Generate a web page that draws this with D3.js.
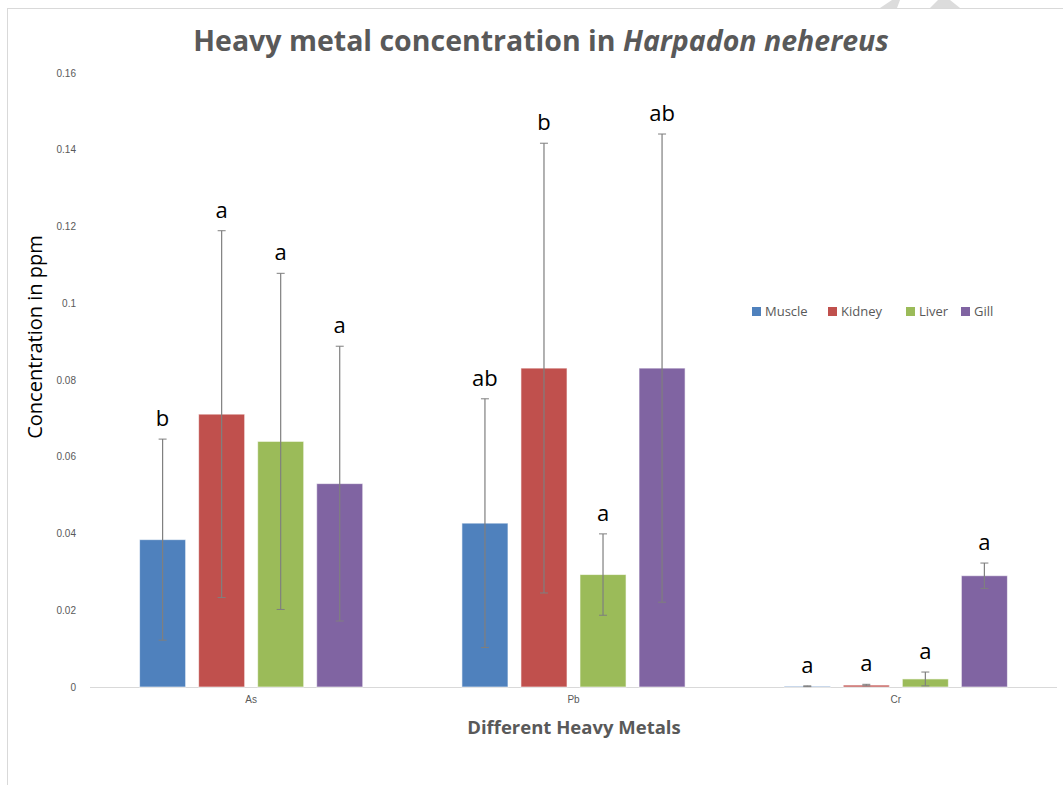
<!DOCTYPE html>
<html>
<head>
<meta charset="utf-8">
<script src="https://cdn.jsdelivr.net/npm/d3@7"></script>
<style>
  body { margin: 0; background: #fff; }
  svg { display: block; font-family: "Open Sans", "Noto Sans", sans-serif; }
</style>
</head>
<body>
<svg class="chart"></svg>
<script>
'use strict'

// data
const metals = ['As', 'Pb', 'Cr']
const tissues = ['Muscle', 'Kidney', 'Liver', 'Gill']
const colors = ['#4F81BD', '#C0504D', '#9BBB59', '#8064A2']
const meanAs = [0.0384, 0.0711, 0.0640, 0.0530]
const meanPb = [0.0427, 0.0831, 0.0293, 0.0831]
const meanCr = [0.0002, 0.0005, 0.0021, 0.0290]
const sdAs = [0.0262, 0.0478, 0.0438, 0.0358]
const sdPb = [0.0324, 0.0586, 0.0106, 0.0610]
const sdCr = [0.0001, 0.0002, 0.0018, 0.0033]
const lettersAs = ['b', 'a', 'a', 'a']
const lettersPb = ['ab', 'b', 'a', 'ab']
const lettersCr = ['a', 'a', 'a', 'a']
const yTicks = [0, 0.02, 0.04, 0.06, 0.08, 0.1, 0.12, 0.14, 0.16]

const means = [meanAs, meanPb, meanCr]
const sds = [sdAs, sdPb, sdCr]
const letters = [lettersAs, lettersPb, lettersCr]

const width = 1063
const height = 785
const margin = { left: 90, right: 6, top: 73, bottom: 98 }

const svg = d3.select('.chart')
  .attr('width', width)
  .attr('height', height)

// outer frame and a bit of watermark peeking in at the top
svg.append('rect')
  .attr('x', 7.5).attr('y', 8.5)
  .attr('width', 1060).attr('height', 800)
  .attr('fill', 'none')
  .attr('stroke', '#d9d9d9')
svg.append('path')
  .attr('d', 'M880,8 L892,0 L900,0 L897,8 Z M930,8 L938,0 L950,0 L960,8 Z')
  .attr('fill', '#dcdcdc')

const rows = []
metals.forEach((m, i) => {
  tissues.forEach((t, j) => {
    rows.push({ metal: m, tissue: t, value: means[i][j], sd: sds[i][j], letter: letters[i][j], color: colors[j] })
  })
})

const x0 = d3.scaleBand()
  .domain(metals)
  .range([margin.left, width - margin.right])

const x1 = d3.scaleBand()
  .domain(tissues)
  .range([0, x0.bandwidth()])
  .paddingInner(0.22)
  .paddingOuter(0.84)

const y = d3.scaleLinear()
  .domain([0, 0.16])
  .range([height - margin.bottom, margin.top])

// y axis labels only, no line
const yAxis = svg.append('g')
  .attr('transform', `translate(${margin.left - 11},0)`)
  .call(d3.axisLeft(y).tickValues(yTicks).tickSize(0).tickFormat(d => d3.format('')(+d.toFixed(2))))
yAxis.select('.domain').remove()
yAxis.selectAll('text')
  .attr('fill', '#595959')
  .attr('font-size', 10)

// x axis baseline
svg.append('line')
  .attr('x1', margin.left).attr('x2', width - margin.right)
  .attr('y1', y(0) + 0.5).attr('y2', y(0) + 0.5)
  .attr('stroke', '#d9d9d9')

const xAxis = svg.append('g')
  .attr('transform', `translate(0,${y(0)})`)
  .call(d3.axisBottom(x0).tickSize(0).tickPadding(9))
xAxis.select('.domain').remove()
xAxis.selectAll('text')
  .attr('fill', '#595959')
  .attr('font-size', 10)

// bars
const bars = svg.append('g').selectAll('g')
  .data(rows)
  .join('g')
  .attr('transform', d => `translate(${x0(d.metal) + x1(d.tissue)},0)`)

bars.append('rect')
  .attr('x', 0)
  .attr('width', x1.bandwidth())
  .attr('y', d => y(d.value))
  .attr('height', d => y(0) - y(d.value))
  .attr('fill', d => d.color)
  .attr('stroke', '#ffffff')
  .attr('stroke-opacity', 0.6)

// error bars
const cx = x1.bandwidth() / 2
bars.append('line')
  .attr('x1', cx).attr('x2', cx)
  .attr('y1', d => y(d.value + d.sd))
  .attr('y2', d => y(Math.max(0, d.value - d.sd)))
  .attr('stroke', '#7f7f7f')
  .attr('stroke-width', 1.2)
bars.append('line')
  .attr('x1', cx - 4).attr('x2', cx + 4)
  .attr('y1', d => y(d.value + d.sd)).attr('y2', d => y(d.value + d.sd))
  .attr('stroke', '#7f7f7f')
bars.append('line')
  .attr('x1', cx - 4).attr('x2', cx + 4)
  .attr('y1', d => y(Math.max(0, d.value - d.sd))).attr('y2', d => y(Math.max(0, d.value - d.sd)))
  .attr('stroke', '#7f7f7f')

// significance letters
bars.append('text')
  .attr('x', cx)
  .attr('y', d => y(d.value + d.sd) - 13)
  .attr('text-anchor', 'middle')
  .attr('font-size', 22)
  .attr('fill', '#000')
  .text(d => d.letter)

// title
const title = svg.append('text')
  .attr('x', 541)
  .attr('y', 51)
  .attr('text-anchor', 'middle')
  .attr('font-size', 28.5)
  .attr('font-weight', 'bold')
  .attr('fill', '#595959')
title.append('tspan').text('Heavy metal concentration in ')
title.append('tspan').attr('font-style', 'italic').text('Harpadon nehereus')

// axis titles
svg.append('text')
  .attr('transform', 'translate(42,337) rotate(-90)')
  .attr('text-anchor', 'middle')
  .attr('font-size', 20)
  .attr('fill', '#000')
  .text('Concentration in ppm')

svg.append('text')
  .attr('x', 574)
  .attr('y', 734)
  .attr('text-anchor', 'middle')
  .attr('font-size', 18.5)
  .attr('font-weight', 'bold')
  .attr('fill', '#595959')
  .text('Different Heavy Metals')

// legend
const legendX = [752, 828, 906, 961]
const legend = svg.append('g').selectAll('g')
  .data(tissues)
  .join('g')
  .attr('transform', (d, i) => `translate(${legendX[i]},307)`)
legend.append('rect')
  .attr('width', 9).attr('height', 9)
  .attr('fill', (d, i) => colors[i])
legend.append('text')
  .attr('x', 13)
  .attr('y', 9)
  .attr('font-size', 13)
  .attr('fill', '#595959')
  .text(d => d)
</script>
</body>
</html>
